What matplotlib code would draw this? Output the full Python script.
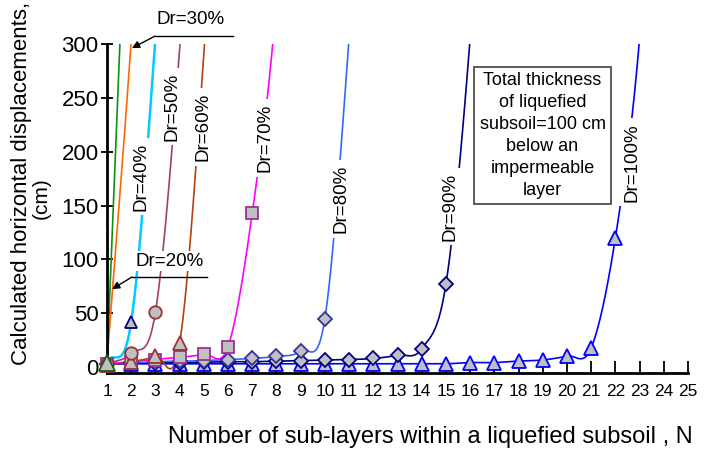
import numpy as np
import matplotlib
matplotlib.use("Agg")
import matplotlib.pyplot as plt

plt.rcParams['font.family'] = ['Liberation Sans', 'DejaVu Sans']

# ---------------- data ----------------
n20 = [1, 2];            d20 = [4, 560]
n30 = [1, 2, 3];         d30 = [5, 303, 650]
n40 = [1, 2, 3, 4];      d40 = [5, 42, 305, 650]
n50 = [1, 2, 3, 4, 5];   d50 = [3, 13, 51, 295, 650]
n60 = [1, 2, 3, 4, 5, 6]; d60 = [2, 5, 10, 22, 290, 650]
n70 = list(range(1, 10)); d70 = [3, 5, 7, 9, 12, 19, 143, 340, 700]
n80 = list(range(1, 13)); d80 = [3, 4, 5, 5.5, 6, 7, 8, 10, 15, 45, 305, 650]
n90 = list(range(1, 18)); d90 = [3, 3.5, 4, 4, 4.5, 5, 5, 5.5, 6, 6.5, 7, 8, 11, 17, 77, 305, 650]
n100 = list(range(1, 25))
d100 = [3, 3, 3, 3, 3, 3, 3, 3, 3, 3, 3, 3, 3, 3, 3, 4.2, 4.2, 5.6, 6.6, 10.3, 17.7, 120, 305, 650]
# last sub-layer count that carries a marker, per series
last_marked = {'Dr=20%': 1, 'Dr=30%': 0, 'Dr=40%': 2, 'Dr=50%': 3, 'Dr=60%': 4,
               'Dr=70%': 7, 'Dr=80%': 10, 'Dr=90%': 15, 'Dr=100%': 22}

labels = ['Dr=20%', 'Dr=30%', 'Dr=40%', 'Dr=50%', 'Dr=60%', 'Dr=70%', 'Dr=80%', 'Dr=90%', 'Dr=100%']
xticks = list(range(1, 26))
yticks = [0, 50, 100, 150, 200, 250, 300]
note = "Total thickness\nof liquefied\nsubsoil=100 cm\nbelow an\nimpermeable\nlayer"
xlabel = "Number of sub-layers within a liquefied subsoil , N"
ylabel1 = "Calculated horizontal displacements,"
ylabel2 = "(cm)"


def smooth(x, y, n=40):
    x = np.asarray(x, float); y = np.asarray(y, float)
    if len(x) < 3:
        return x, y
    m = np.empty_like(y)
    m[1:-1] = (y[2:] - y[:-2]) / (x[2:] - x[:-2])
    m[0] = (y[1] - y[0]) / (x[1] - x[0])
    m[-1] = (y[-1] - y[-2]) / (x[-1] - x[-2])
    xs, ys = [], []
    for i in range(len(x) - 1):
        h = x[i + 1] - x[i]
        t = np.linspace(0, 1, n, endpoint=False)
        h00 = 2 * t**3 - 3 * t**2 + 1
        h10 = t**3 - 2 * t**2 + t
        h01 = -2 * t**3 + 3 * t**2
        h11 = t**3 - t**2
        xs.append(x[i] + t * h)
        ys.append(h00 * y[i] + h10 * h * m[i] + h01 * y[i + 1] + h11 * h * m[i + 1])
    xs.append([x[-1]]); ys.append([y[-1]])
    return np.concatenate(xs), np.concatenate(ys)


fig = plt.figure(figsize=(7.2, 4.5), dpi=100)
ax = fig.add_axes([107 / 720, 1 - 373 / 450, 581 / 720, 329 / 450])
ax.set_xlim(1, 25)
ax.set_ylim(-5.5, 300)

grey = '#c0c0c0'
series = [
    # label, x, y, line colour, lw, marker, marker edge, marker size
    ('Dr=100%', n100, d100, '#0000ff', 1.2, '^', '#0000ff', 9.5),
    ('Dr=90%', n90, d90, '#000080', 1.2, 'D', '#000080', 7.5),
    ('Dr=80%', n80, d80, '#3366ff', 1.2, 'D', '#333399', 7.5),
    ('Dr=70%', n70, d70, '#ff00ff', 1.2, 's', '#993399', 9.0),
    ('Dr=60%', n60, d60, '#b5400d', 1.2, '^', '#993333', 9.5),
    ('Dr=50%', n50, d50, '#a0406e', 1.2, 'o', '#993333', 9.0),
    ('Dr=40%', n40, d40, '#00ccff', 1.8, '^', '#000080', 9.0),
    ('Dr=30%', n30, d30, '#ff6600', 1.2, None, None, 0),
    ('Dr=20%', n20, d20, '#109010', 1.2, '^', '#1a5c1a', 11.0),
]
for k, (lab, x, y, c, lw, mk, mec, ms) in enumerate(series):
    xs, ys = smooth(x, y)
    ax.plot(xs, ys, color=c, lw=lw, zorder=2 + k * 0.01, solid_capstyle='butt')
    if mk is not None:
        xa = np.asarray(x); ya = np.asarray(y)
        sel = xa <= last_marked[lab]
        ax.plot(xa[sel], ya[sel], ls='none', marker=mk, ms=ms, mfc=grey, mec=mec,
                mew=1.3, clip_on=False, zorder=3 + k * 0.01)

# rotated labels with white background
rot_pos = {'Dr=40%': (2.40, 177), 'Dr=50%': (3.68, 242), 'Dr=60%': (4.97, 223),
           'Dr=70%': (7.53, 213), 'Dr=80%': (10.67, 156), 'Dr=90%': (15.17, 149),
           'Dr=100%': (22.69, 190)}
for lab, (px, py) in rot_pos.items():
    ax.text(px, py, lab, rotation=90, ha='center', va='center', fontsize=13.5,
            bbox=dict(boxstyle='square,pad=0.25', fc='white', ec='none'), zorder=5)

# horizontal labels with leader arrows
ax.text(3.60, 98.5, labels[0], ha='center', va='center', fontsize=13.5, zorder=5,
        bbox=dict(boxstyle='square,pad=0.1', fc='white', ec='none'))
ax.plot([2.03, 5.13], [83.6, 83.6], color='black', lw=1, clip_on=False, zorder=5)
ax.annotate('', xy=(1.21, 72.4), xytext=(2.03, 83.6), annotation_clip=False,
            arrowprops=dict(arrowstyle='-|>', color='black', lw=1, mutation_scale=11,
                            shrinkA=0, shrinkB=0), zorder=5)
ax.text(4.45, 322.7, labels[1], ha='center', va='center', fontsize=13.5, zorder=5,
        clip_on=False)
ax.plot([2.98, 6.2], [307.3, 307.3], color='black', lw=1, clip_on=False, zorder=5)
ax.annotate('', xy=(2.03, 296.2), xytext=(2.98, 307.3), annotation_clip=False,
            arrowprops=dict(arrowstyle='-|>', color='black', lw=1, mutation_scale=11,
                            shrinkA=0, shrinkB=0), zorder=5)

# note box
ax.text(18.99, 215, note, ha='center', va='center', fontsize=13, multialignment='center',
        linespacing=1.38, zorder=6,
        bbox=dict(boxstyle='square,pad=0.3', fc='white', ec='#404040', lw=1.2))

# axes styling
for s in ['top', 'right']:
    ax.spines[s].set_visible(False)
for s in ['left', 'bottom']:
    ax.spines[s].set_linewidth(2)
ax.set_xticks(xticks)
ax.set_yticks(yticks)
ax.tick_params(axis='x', direction='in', length=9, width=1.3, labelsize=12.5, pad=8)
ax.tick_params(axis='y', direction='inout', length=8, width=1.3, labelsize=16, pad=2)

fig.text(430 / 720, 1 - 437 / 450, xlabel, ha='center', va='center', fontsize=17)
fig.text(22 / 720, 1 - 183 / 450, ylabel1, ha='center', va='center', rotation=90, fontsize=16)
fig.text(41 / 720, 1 - 198 / 450, ylabel2, ha='center', va='center', rotation=90, fontsize=15)

fig.savefig('out.png', dpi=100)
